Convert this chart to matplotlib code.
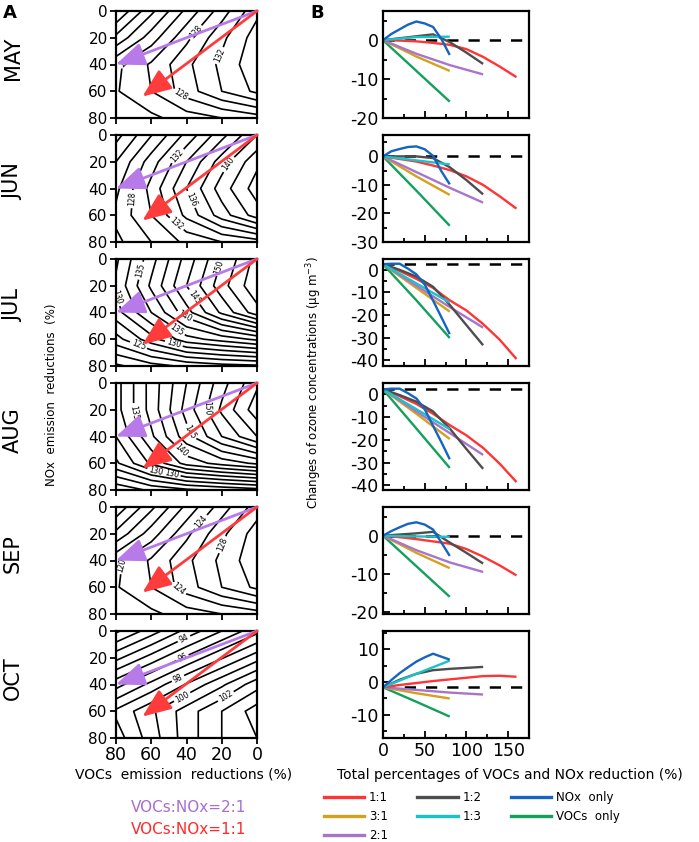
import matplotlib
matplotlib.use('Agg')
import matplotlib.pyplot as plt
from matplotlib.patches import FancyArrowPatch
from matplotlib.lines import Line2D

plt.rcParams['font.family'] = ['DejaVu Sans']
plt.rcParams['axes.unicode_minus'] = False

W, H = 699, 842

months = ['MAY', 'JUN', 'JUL', 'AUG', 'SEP', 'OCT']

# ---- panel A : ozone isopleths (grid) ----
voc_grid = [0, 20, 40, 60, 80]
nox_grid = [0, 20, 40, 60, 80]

# rows = NOx reduction 0..80, columns = VOCs reduction 0..80
o3_may = [[133.5, 129.0, 124.5, 119.5, 114.0],
          [135.0, 131.5, 127.5, 123.0, 118.5],
          [135.5, 132.5, 129.5, 126.3, 123.5],
          [134.5, 132.0, 129.0, 126.0, 123.8],
          [127.0, 126.0, 125.0, 123.5, 122.0]]
o3_jun = [[140.0, 135.3, 130.6, 125.9, 121.2],
          [143.5, 139.0, 134.0, 129.0, 124.0],
          [145.0, 141.0, 136.0, 130.7, 125.5],
          [143.0, 139.0, 134.5, 130.0, 126.5],
          [133.0, 132.0, 130.5, 128.0, 125.5]]
o3_jul = [[156.0, 150.0, 143.5, 136.5, 129.5],
          [157.0, 151.5, 145.0, 138.0, 130.5],
          [154.0, 148.0, 141.5, 135.0, 129.0],
          [138.0, 136.0, 134.0, 129.0, 124.0],
          [122.0, 121.5, 120.5, 119.0, 117.0]]
o3_aug = [[157.0, 151.5, 145.0, 138.5, 131.5],
          [159.0, 153.0, 146.0, 138.5, 131.5],
          [155.0, 150.0, 144.0, 137.0, 130.0],
          [143.0, 141.0, 138.5, 133.0, 127.0],
          [124.0, 123.0, 122.0, 120.5, 118.0]]
o3_sep = [[129.0, 125.0, 120.5, 115.5, 110.5],
          [131.0, 127.5, 123.5, 119.0, 114.5],
          [131.5, 128.5, 125.5, 122.3, 119.5],
          [130.5, 128.0, 125.0, 122.0, 119.8],
          [123.0, 122.0, 121.0, 119.5, 118.0]]
o3_oct = [[96.7, 95.0, 93.3, 91.5, 89.8],
          [99.6, 97.9, 96.2, 94.4, 92.7],
          [102.6, 100.8, 99.1, 97.3, 95.6],
          [104.5, 103.0, 101.5, 99.8, 98.2],
          [104.0, 103.0, 101.5, 99.5, 97.5]]
o3_fields = [o3_may, o3_jun, o3_jul, o3_aug, o3_sep, o3_oct]

levels_a = [list(range(110, 140, 2)), list(range(116, 150, 2)),
            [110 + 2.5 * i for i in range(22)], [110 + 2.5 * i for i in range(22)],
            list(range(104, 136, 2)), list(range(85, 110, 1))]
label_levels = [[124, 128, 132], [128, 132, 136, 140],
                [125, 130, 135, 140, 145, 150], [130, 135, 140, 145, 150],
                [120, 124, 128], [94, 96, 98, 100, 102]]

# reduction paths (VOCs, NOx)
path_21_voc = [0, 80]
path_21_nox = [0, 40]
path_11_voc = [0, 65]
path_11_nox = [0, 64]

# ---- panel B : ozone change vs total reduction ----
x_11 = [0, 20, 40, 60, 80, 100, 120, 140, 160]
x_31 = [0, 40, 80]
x_21 = [0, 40, 80, 120]
x_12 = [0, 20, 40, 60, 80, 100, 120]
x_13 = [0, 40, 80]
x_nox = [0, 10, 20, 30, 40, 50, 60, 70, 80]
x_voc = [0, 40, 80]

y_11 = [[0, -0.1, -0.3, -0.7, -1.2, -2.3, -4.3, -6.8, -9.5],
        [0, -0.9, -1.8, -3.2, -4.8, -7.0, -10.0, -14.0, -18.3],
        [2.5, -0.5, -4.0, -8.0, -13.5, -18.0, -24.0, -31.0, -39.5],
        [2.2, -0.8, -4.2, -8.5, -13.5, -18.0, -23.5, -30.5, -38.5],
        [0, -0.4, -0.9, -1.5, -2.1, -3.5, -5.5, -7.8, -10.4],
        [-1.6, -0.9, -0.3, 0.3, 0.8, 1.3, 1.8, 1.9, 1.6]]
y_31 = [[0, -4.2, -7.9], [0, -7.0, -13.5], [2.5, -8.0, -18.5],
        [2.2, -8.5, -19.6], [0, -4.5, -8.5], [-1.6, -3.4, -5.0]]
y_21 = [[0, -3.5, -6.4, -8.8], [0, -5.5, -11.0, -16.2], [2.5, -7.0, -16.5, -25.6],
        [2.2, -7.5, -17.0, -26.6], [0, -3.8, -7.0, -9.5], [-1.6, -2.4, -3.2, -3.8]]
y_12 = [[0, 0.5, 1.0, 1.5, -0.5, -3.2, -6.1],
        [0, 0, 0, -0.6, -3.8, -8.3, -13.3],
        [2.5, 0, -3.0, -7.5, -15.5, -24.5, -33.4],
        [2.2, -0.3, -3.2, -7.5, -15.0, -24.0, -32.7],
        [0, 0.3, 0.6, 1.0, -1.8, -4.5, -7.3],
        [-1.6, 0.7, 2.5, 3.6, 4.0, 4.3, 4.6]]
y_13 = [[0, 0.8, 0.9], [0, -1.4, -2.8], [2.5, -6.0, -14.5],
        [2.2, -6.5, -15.3], [0, -0.2, -0.3], [-1.6, 2.5, 6.5]]
y_nox = [[0, 1.6, 2.8, 4.0, 4.8, 4.3, 3.4, 0.3, -3.8],
         [0, 1.8, 2.6, 3.3, 3.5, 2.5, 0.2, -5.2, -9.8],
         [2.5, 2.7, 2.7, 0.5, -2.0, -6.5, -13.6, -21.0, -28.5],
         [2.2, 2.5, 2.5, 0.5, -1.8, -6.5, -13.8, -21.0, -28.5],
         [0, 1.2, 2.2, 3.1, 3.5, 2.9, 1.6, -1.8, -5.3],
         [-1.6, 0.6, 2.7, 4.5, 6.2, 7.5, 8.6, 7.7, 6.8]]
y_voc = [[0, -7.9, -15.8], [0, -12.0, -24.3], [2.5, -13.5, -30.2],
         [2.2, -15.0, -32.3], [0, -8.0, -16.0], [-1.6, -6.0, -10.5]]
baseline = [0, 0, 2.5, 2.2, 0, -1.6]

ylim_b = [(-20, 7.5), (-30, 7.5), (-42.6, 4.8), (-42, 5), (-20.5, 7.5), (-17, 15.5)]
yticks_b = [[0, -10, -20], [0, -10, -20, -30], [0, -10, -20, -30, -40],
            [0, -10, -20, -30, -40], [0, -10, -20], [10, 0, -10]]

series_labels = ['1:1', '3:1', '2:1', '1:2', '1:3', 'NOx  only', 'VOCs  only']
series_colors = ['#ff3535', '#d4a11e', '#a874cc', '#4d4d4d', '#19c3c8', '#1464c0', '#12a05c']

# label spots for contour labels (VOCs, NOx)
label_spots = [[(33, 18), (71, 44), (45, 66), (20, 34)],
               [(44, 17), (16, 22), (70, 48), (37, 48), (46, 67)],
               [(62, 10), (21, 6), (35, 28), (78, 28), (43, 47), (47, 56), (48, 67), (68, 67)],
               [(70, 22), (28, 19), (40, 38), (45, 53), (48, 65), (58, 71)],
               [(31, 12), (18, 29), (73, 44), (45, 62)],
               [(41, 7), (42, 21), (45, 35), (43, 48), (20, 44)]]


def box(left, top, w, h):
    return [left / W, 1 - (top + h) / H, w / W, h / H]


fig = plt.figure(figsize=(W / 100, H / 100), dpi=100)

row_tops = [11, 135, 259, 383, 507, 631]
row_h = 107

for i, m in enumerate(months):
    top = row_tops[i]
    # ---------- A ----------
    ax = fig.add_axes(box(116, top, 141, row_h))
    plain = [v for v in levels_a[i] if v not in label_levels[i]]
    ax.contour(voc_grid, nox_grid, o3_fields[i], levels=plain,
               colors='black', linewidths=1.2)
    cs = ax.contour(voc_grid, nox_grid, o3_fields[i], levels=label_levels[i],
                    colors='black', linewidths=1.2)
    ax.clabel(cs, manual=label_spots[i], inline=True,
              fontsize=5.5, fmt='%d', inline_spacing=2)
    for vx, ny, col in [(path_21_voc, path_21_nox, '#b87ae8'),
                        (path_11_voc, path_11_nox, '#ff3c3c')]:
        arr = FancyArrowPatch((vx[0], ny[0]), (vx[1], ny[1]),
                              arrowstyle='-|>,head_length=1.6,head_width=0.65',
                              mutation_scale=11, lw=2, color=col,
                              shrinkA=0, shrinkB=0, clip_on=False, zorder=5)
        ax.add_patch(arr)
    ax.set_xlim(80, 0)
    ax.set_ylim(80, 0)
    ax.set_xticks([80, 60, 40, 20, 0])
    ax.set_yticks([0, 20, 40, 60, 80])
    ax.tick_params(direction='out', length=4, width=1.3, labelsize=11, pad=2)
    if i < 5:
        ax.tick_params(labelbottom=False)
    else:
        ax.tick_params(axis='x', labelsize=12.5)
    for s in ax.spines.values():
        s.set_linewidth(1.6)
    fig.text(13 / W, 1 - (top + 47) / H, m, rotation=90, ha='center', va='center',
             fontsize=15)

    # ---------- B ----------
    bx = fig.add_axes(box(383, top, 146, row_h))
    bx.axhline(baseline[i], color='black', lw=1.8, ls=(0, (4.5, 4)), zorder=1)
    order = [6, 1, 2, 0, 3, 4, 5]
    xs = [x_11, x_31, x_21, x_12, x_13, x_nox, x_voc]
    ys = [y_11, y_31, y_21, y_12, y_13, y_nox, y_voc]
    for k in order:
        bx.plot(xs[k], ys[k][i], color=series_colors[k], lw=1.7, zorder=2,
                solid_capstyle='butt')
    bx.set_xlim(0, 175)
    bx.set_ylim(*ylim_b[i])
    bx.set_xticks([0, 50, 100, 150])
    bx.set_xticks([25, 75, 125], minor=True)
    bx.set_yticks(yticks_b[i])
    lo, hi = ylim_b[i]
    bx.set_yticks([v for v in range(-45, 20, 5) if lo < v < hi and v % 10 != 0],
                  minor=True)
    bx.tick_params(which='both', direction='in', width=1.3, labelsize=12.5, pad=3)
    bx.tick_params(which='major', length=5)
    bx.tick_params(which='minor', length=3)
    if i < 5:
        bx.tick_params(labelbottom=False)
    for s in bx.spines.values():
        s.set_linewidth(1.6)

fig.text(3 / W, 1 - 4 / H, 'A', fontsize=13, weight='bold', va='top', ha='left')
fig.text(310 / W, 1 - 4 / H, 'B', fontsize=13, weight='bold', va='top', ha='left')

fig.text(52 / W, 1 - 395 / H, 'NOx  emission  reductions  (%)', rotation=90,
         ha='center', va='center', fontsize=8.5)
fig.text(314 / W, 1 - 383 / H, 'Changes of ozone concentrations (\u03bcg m$^{-3}$)',
         rotation=90, ha='center', va='center', fontsize=8.5)
fig.text(184 / W, 1 - 775 / H, 'VOCs  emission  reductions (%)', ha='center',
         va='center', fontsize=10)
fig.text(510 / W, 1 - 775 / H, 'Total percentages of VOCs and NOx reduction (%)',
         ha='center', va='center', fontsize=10)
fig.text(189 / W, 1 - 808 / H, 'VOCs:NOx=2:1', color='#a66fd0', ha='center',
         va='center', fontsize=11)
fig.text(189 / W, 1 - 829 / H, 'VOCs:NOx=1:1', color='#ff2a2a', ha='center',
         va='center', fontsize=11)

handles = [Line2D([], [], color=c, lw=2.4) for c in series_colors]
blank = Line2D([], [], color='none')
leg_h = handles[:3] + handles[3:5] + [blank] + handles[5:] + [blank]
leg_l = series_labels[:3] + series_labels[3:5] + [''] + series_labels[5:] + ['']
fig.legend(leg_h, leg_l, loc='upper left', bbox_to_anchor=(324 / W, 1 - 791 / H),
           ncol=3, frameon=False, fontsize=8.5, handlelength=3.4,
           handletextpad=0.4, columnspacing=2.5, labelspacing=0.5,
           borderaxespad=0, borderpad=0)

fig.savefig('out.png', dpi=100)
